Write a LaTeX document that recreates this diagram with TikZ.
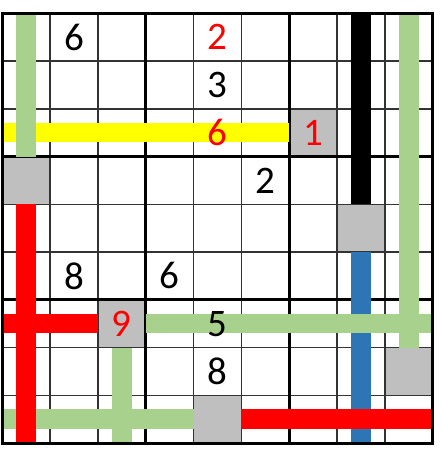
\documentclass[tikz,border=0pt]{standalone}
\usepackage{fontspec}
\setmainfont{Carlito}
\definecolor{bandgreen}{HTML}{A9D18E}
\definecolor{bandblue}{HTML}{2E75B6}
\definecolor{bandred}{HTML}{FF0000}
\definecolor{bandyellow}{HTML}{FFFF00}
\definecolor{cellgray}{HTML}{BFBFBF}
\definecolor{gridgray}{HTML}{333333}
\tikzset{
  graycell/.style={fill=cellgray, draw=none, minimum width=47.82pt, minimum height=47.75pt, inner sep=0pt},
  thingrid/.style={draw=gridgray, line width=1.5pt},
  thickgrid/.style={draw=black, line width=3pt},
  band/.style={line width=19.5pt, line cap=butt},
  digit/.style={font=\fontsize{39}{39}\selectfont, inner sep=0pt},
  given/.style={digit, text=black},
  placed/.style={digit, text=red}
}
\begin{document}
\begin{tikzpicture}[x=1pt,y=-1pt]
\useasboundingbox (0,0) rectangle (443,454);
\begin{scope}[shift={(2.3,13.3)}, x=47.82pt, y=-47.75pt]
  % gray cells
  \node[graycell] (g37) at (6.5,2.5) {};
  \node[graycell] (g41) at (0.5,3.5) {};
  \node[graycell] (g58) at (7.5,4.5) {};
  \node[graycell] (g73) at (2.5,6.5) {};
  \node[graycell] (g89) at (8.5,7.5) {};
  \node[graycell] (g95) at (4.5,8.5) {};
  % grid
  \foreach \i in {1,2,4,5,7,8} {
    \draw[thingrid] (\i,0) -- (\i,9);
    \draw[thingrid] (0,\i) -- (9,\i);
  }
  \foreach \i in {3,6} {
    \draw[thickgrid] (\i,0) -- (\i,9);
    \draw[thickgrid] (0,\i) -- (9,\i);
  }
  % bands
  \draw[band, bandyellow] (0,2.5) -- (6,2.5);
  \draw[band, bandblue] (7.5,5) -- (7.5,9);
  \draw[band, bandgreen] (0.5,0) -- (0.5,3);
  \draw[band, bandgreen] (8.5,0) -- (8.5,7);
  \draw[band, bandgreen] (3,6.5) -- (9,6.5);
  \draw[band, bandgreen] (2.5,7) -- (2.5,9);
  \draw[band, bandgreen] (0,8.5) -- (4,8.5);
  \draw[band, bandred] (0.5,4) -- (0.5,9);
  \draw[band, bandred] (0,6.5) -- (2,6.5);
  \draw[band, bandred] (5,8.5) -- (9,8.5);
  \draw[band, black] (7.5,0) -- (7.5,4);
  % border
  \draw[thickgrid] (0,0) rectangle (9,9);
  % digits
  \node[given]  (d12) at (1.5,0.5) {6};
  \node[placed] (d15) at (4.5,0.5) {2};
  \node[given]  (d25) at (4.5,1.5) {3};
  \node[placed] (d35) at (4.5,2.5) {6};
  \node[placed] (d37) at (6.5,2.5) {1};
  \node[given]  (d46) at (5.5,3.5) {2};
  \node[given]  (d62) at (1.5,5.5) {8};
  \node[given]  (d64) at (3.5,5.5) {6};
  \node[placed] (d73) at (2.5,6.5) {9};
  \node[given]  (d75) at (4.5,6.5) {5};
  \node[given]  (d85) at (4.5,7.5) {8};
\end{scope}
\end{tikzpicture}
\end{document}
